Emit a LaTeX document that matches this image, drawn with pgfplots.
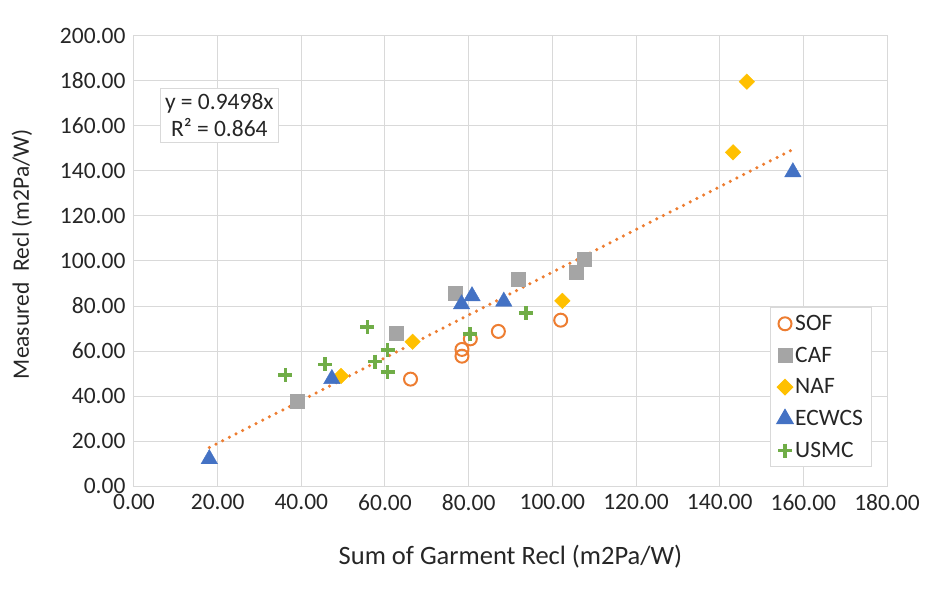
\documentclass[border=0pt]{standalone}
\usepackage{pgfplots}
\pgfplotsset{compat=1.18}
\usepackage{fontspec}
\setmainfont{Carlito}
\definecolor{sof}{HTML}{ED7D31}
\definecolor{caf}{HTML}{A5A5A5}
\definecolor{naf}{HTML}{FFC000}
\definecolor{ecw}{HTML}{4472C4}
\definecolor{usmc}{HTML}{70AD47}
\definecolor{gridc}{HTML}{D9D9D9}
\definecolor{txt}{HTML}{262626}
\newcommand{\cf}{\fontsize{23.5}{27}\selectfont}
\newcommand{\lf}{\fontsize{26.5}{30}\selectfont}
\begin{document}
\begin{tikzpicture}
\useasboundingbox (-134pt,-117pt) rectangle (812pt,486pt);
\begin{axis}[
  at={(0,0)}, anchor=south west, scale only axis,
  width=753pt, height=450pt,
  xmin=0, xmax=180, ymin=0, ymax=200,
  xtick distance=20, ytick distance=20,
  grid=major, major grid style={draw=gridc, line width=1pt},
  axis line style={draw=gridc, line width=1pt},
  tick style={draw=none},
  /pgf/number format/.cd, fixed, fixed zerofill, precision=2, 1000 sep={}, assume math mode=true,
  /pgfplots/.cd,
  ticklabel style={font=\cf, text=txt},
  xticklabel style={yshift=-5pt},
  yticklabel style={xshift=-5pt},
  xlabel={Sum of Garment Recl (m2Pa/W)},
  ylabel={Measured\ \ Recl (m2Pa/W)},
  xlabel style={font=\lf, text=txt, at={([yshift=-71pt]rel axis cs:0.5,0)}, anchor=center},
  ylabel style={font=\cf, text=txt, at={([xshift=-112pt]rel axis cs:0,0.515)}, anchor=center},
  legend style={draw=gridc, line width=1pt, font=\cf, text=txt, at={(rel axis cs:0.845,0.398)}, anchor=north west, row sep=11pt, inner xsep=6pt, inner ysep=6pt, nodes={text width=68pt}},
  legend cell align=left,
]
\addplot[only marks, mark=o, mark size=6.5pt, mark options={draw=sof, line width=2pt}] coordinates {
 (66.1,47.5) (78.4,57.7) (78.4,60.7) (80.4,65.4) (87.1,68.7) (102.0,73.7)};
\addlegendentry{SOF}
\addplot[only marks, mark=square*, mark size=7pt, mark options={draw=caf, fill=caf}] coordinates {
 (39.0,37.8) (62.7,68.1) (76.7,85.9) (91.8,92.1) (105.8,95.2) (107.5,101.0)};
\addlegendentry{CAF}
\addplot[only marks, mark=square*, mark size=5.5pt, mark options={draw=naf, fill=naf, rotate=45}] coordinates {
 (49.5,48.9) (66.6,64.1) (102.4,82.3) (143.2,148.3) (146.5,179.7)};
\addlegendentry{NAF}
\addplot[only marks, mark=triangle*, mark size=9.5pt, mark options={draw=ecw, fill=ecw}] coordinates {
 (18.0,12.0) (47.3,47.6) (78.3,80.8) (80.8,84.4) (88.4,82.0) (157.5,139.5)};
\addlegendentry{ECWCS}
\addplot[only marks, mark=+, mark size=7pt, mark options={draw=usmc, line width=3.5pt}] coordinates {
 (36.2,49.4) (45.7,54.1) (55.8,70.6) (57.6,55.3) (60.6,60.4) (60.6,50.6) (80.3,67.5) (93.7,77.0)};
\addlegendentry{USMC}
\addplot[forget plot, sof, line width=3.5pt, dash pattern=on 0pt off 7.5pt, line cap=round] coordinates {
 (18.0,17.1) (157.5,149.6)};
\node[draw=gridc, line width=1pt, fill=white, align=center, font=\cf, text=txt, inner xsep=5pt, inner ysep=5pt] at (axis cs:20.4,164.7) {y = 0.9498x\\R² = 0.864};
\end{axis}
\end{tikzpicture}
\end{document}
